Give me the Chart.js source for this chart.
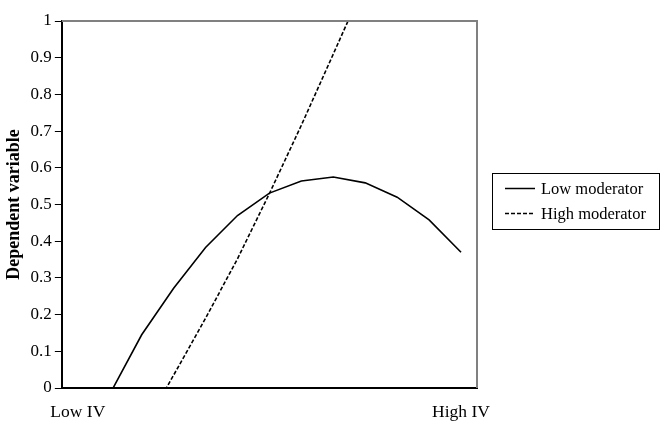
<!DOCTYPE html>
<html>
<head>
<meta charset="utf-8">
<script src="https://cdn.jsdelivr.net/npm/chart.js@4/dist/chart.umd.min.js"></script>
<style>
  html, body { margin: 0; padding: 0; background: #fff; }
  #wrap { width: 665px; height: 438px; position: relative; }
</style>
</head>
<body>
<div id="wrap"><canvas id="c"></canvas></div>
<script>
// Categories (13 steps from Low IV to High IV; only the ends are labelled)
const categories = ['Low IV', '', '', '', '', '', '', '', '', '', '', '', 'High IV'];
// Series values (values outside 0..1 are clipped by the axis)
const lowModerator  = [-0.20, -0.017, 0.145, 0.272, 0.383, 0.470, 0.531, 0.564, 0.575, 0.559, 0.520, 0.458, 0.370];
const highModerator = [null, null, -0.120, 0.035, 0.190, 0.352, 0.530, 0.716, 0.910, 1.105, null, null, null];
const seriesNames = ['Low moderator', 'High moderator'];
const yTicks = [0, 0.1, 0.2, 0.3, 0.4, 0.5, 0.6, 0.7, 0.8, 0.9, 1];
const yTitle = 'Dependent variable';

const FONT = "'Liberation Serif', 'Times New Roman', serif";

const frameAndLegend = {
  id: 'frameAndLegend',
  afterDatasetsDraw(chart) {
    const { ctx, chartArea: a } = chart;
    ctx.save();
    ctx.strokeStyle = '#808080';
    ctx.lineWidth = 2;
    ctx.beginPath();
    ctx.moveTo(a.left, a.top);
    ctx.lineTo(a.right, a.top);
    ctx.lineTo(a.right, a.bottom);
    ctx.stroke();
    ctx.restore();
  },
  afterDraw(chart) {
    const { ctx } = chart;
    const bx = 492.5, by = 173.5, bw = 167, bh = 56;
    ctx.save();
    ctx.strokeStyle = '#000';
    ctx.lineWidth = 1;
    ctx.strokeRect(bx, by, bw, bh);
    ctx.font = '16.5px ' + FONT;
    ctx.fillStyle = '#000';
    ctx.textBaseline = 'middle';
    chart.data.datasets.forEach((ds, i) => {
      const y = 188.5 + i * 25;
      ctx.beginPath();
      ctx.lineWidth = 1.5;
      ctx.setLineDash(ds.borderDash || []);
      ctx.moveTo(505, y);
      ctx.lineTo(535, y);
      ctx.stroke();
      ctx.setLineDash([]);
      ctx.fillText(ds.label, 541, y + 1);
    });
    ctx.restore();
  }
};

new Chart(document.getElementById('c'), {
  type: 'line',
  data: {
    labels: categories,
    datasets: [
      { label: seriesNames[0], data: lowModerator, borderColor: '#000', borderWidth: 1.6,
        pointRadius: 0, tension: 0, fill: false },
      { label: seriesNames[1], data: highModerator, borderColor: '#000', borderWidth: 1.6,
        borderDash: [4, 2], pointRadius: 0, tension: 0, fill: false }
    ]
  },
  options: {
    responsive: true,
    maintainAspectRatio: false,
    animation: false,
    events: [],
    layout: { padding: { left: 2, right: 188, top: 21, bottom: 9 } },
    plugins: { legend: { display: false }, tooltip: { enabled: false } },
    scales: {
      x: {
        offset: true,
        grid: { display: false },
        border: { display: true, color: '#000', width: 2 },
        ticks: { autoSkip: false, maxRotation: 0, minRotation: 0, color: '#000',
                 font: { family: FONT, size: 17.5 }, padding: 6 }
      },
      y: {
        min: 0, max: 1,
        afterBuildTicks(axis) { axis.ticks = yTicks.map(v => ({ value: v })); },
        grid: { display: true, drawOnChartArea: false, drawTicks: true, tickLength: 7, color: '#000' },
        border: { display: true, color: '#000', width: 2 },
        ticks: { color: '#000', font: { family: FONT, size: 17 }, padding: 3,
                 callback: v => String(Math.round(v * 10) / 10) },
        title: { display: true, text: yTitle, color: '#000',
                 font: { family: FONT, size: 18, weight: 'bold' }, padding: 2 }
      }
    }
  },
  plugins: [frameAndLegend]
});
</script>
</body>
</html>
